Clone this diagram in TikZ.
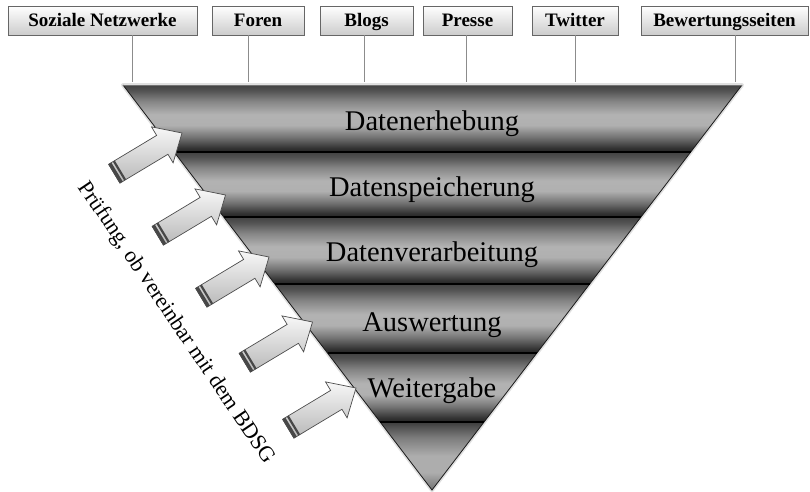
\documentclass[tikz,border=0pt]{standalone}
\usepackage{fontspec}
\setmainfont{Liberation Serif}
\pgfdeclareverticalshading{bandshade}{100bp}{color(0bp)=(black!86); color(25bp)=(black!86); color(28bp)=(black!80); color(36bp)=(black!55); color(45bp)=(black!31); color(53bp)=(black!30); color(63bp)=(black!48); color(71bp)=(black!68); color(75bp)=(black!74); color(100bp)=(black!74)}
\pgfdeclareverticalshading{tipshade}{100bp}{color(0bp)=(black!55); color(25bp)=(black!55); color(38bp)=(black!32); color(50bp)=(black!32); color(64bp)=(black!52); color(75bp)=(black!76); color(100bp)=(black!76)}
\tikzset{
  topbox/.style={draw=black!60, line width=0.7pt, top color=white, bottom color=black!20,
    minimum height=29pt, inner sep=0pt, text height=14pt, text depth=3pt,
    font=\bfseries\fontsize{19}{20}\selectfont},
  conn/.style={draw=black!45, line width=0.8pt},
  bandlabel/.style={anchor=base, font=\fontsize{28.5}{30}\selectfont, inner sep=0pt},
  sepline/.style={draw=black, line width=1.8pt},
  edgeline/.style={draw=black!90, line width=0.8pt},
  blockarrow/.pic={
    \path[draw=black!70, line width=0.7pt, top color=black!3, bottom color=black!28]
      (0,0) -- (-23,-21) -- (-23,-11) -- (-79,-11) -- (-79,11) -- (-23,11) -- (-23,21) -- cycle;
    \fill[black!72] (-79,-11) rectangle (-75.8,11);
    \fill[black!72] (-74,-11) rectangle (-71.8,11);
    \draw[black!70, line width=0.7pt] (-79,-11) -- (-79,11);
  }
}
\begin{document}
\begin{tikzpicture}[x=1pt,y=-1pt]
\useasboundingbox[fill=white] (0,0) rectangle (810,491);

% funnel coordinates
\coordinate (L0) at (123,85);   \coordinate (R0) at (742,85);
\coordinate (L1) at (174.1,152); \coordinate (R1) at (690.7,152);
\coordinate (L2) at (223.7,217); \coordinate (R2) at (641.0,217);
\coordinate (L3) at (274.8,284); \coordinate (R3) at (589.7,284);
\coordinate (L4) at (327.5,353); \coordinate (R4) at (536.9,353);
\coordinate (L5) at (380.1,422); \coordinate (R5) at (484.1,422);
\coordinate (T) at (432,490);

% soft halo
\draw[black!12, line width=4pt, line join=round] (L0) -- (R0) -- (T) -- cycle;

% bands
\shade[shading=bandshade] (L0) -- (R0) -- (R1) -- (L1) -- cycle;
\shade[shading=bandshade] (L1) -- (R1) -- (R2) -- (L2) -- cycle;
\shade[shading=bandshade] (L2) -- (R2) -- (R3) -- (L3) -- cycle;
\shade[shading=bandshade] (L3) -- (R3) -- (R4) -- (L4) -- cycle;
\shade[shading=bandshade] (L4) -- (R4) -- (R5) -- (L5) -- cycle;
\shade[shading=tipshade] (L5) -- (R5) -- (T) -- cycle;

\draw[edgeline] (L0) -- (T) -- (R0);
\draw[black!55, line width=0.8pt] (L0) -- (R0);
\foreach \i in {1,...,5} { \draw[sepline] (L\i) -- (R\i); }

% band labels
\node[bandlabel] (d1) at (432,130) {Datenerhebung};
\node[bandlabel] (d2) at (432,196) {Datenspeicherung};
\node[bandlabel] (d3) at (432,261) {Datenverarbeitung};
\node[bandlabel] (d4) at (432,331) {Auswertung};
\node[bandlabel] (d5) at (432,397) {Weitergabe};

% top boxes
\node[topbox, minimum width=189pt] (b1) at (102.5,20.5) {Soziale Netzwerke};
\node[topbox, minimum width=92pt]  (b2) at (258,20.5) {Foren};
\node[topbox, minimum width=93pt]  (b3) at (366.5,20.5) {Blogs};
\node[topbox, minimum width=89pt]  (b4) at (467.5,20.5) {Presse};
\node[topbox, minimum width=86pt]  (b5) at (575,20.5) {Twitter};
\node[topbox, minimum width=167pt] (b6) at (724.5,20.5) {Bewertungsseiten};

\coordinate (c1) at (132,82);
\coordinate (c2) at (248,82);
\coordinate (c3) at (364,82);
\coordinate (c4) at (466,82);
\coordinate (c5) at (575,82);
\coordinate (c6) at (735,82);
\foreach \i in {1,...,6} { \draw[conn] (c\i |- b\i.south) -- (c\i); }

% arrows
\pic[rotate=31] at (182,133) {blockarrow};
\pic[rotate=31] at (225.5,195) {blockarrow};
\pic[rotate=31] at (269,257) {blockarrow};
\pic[rotate=31] at (312.5,322) {blockarrow};
\pic[rotate=31] at (356,388) {blockarrow};

% rotated text
\node[rotate=-56, font=\fontsize{22}{24}\selectfont, inner sep=0pt] (pr) at (176,323)
  {Prüfung, ob vereinbar mit dem BDSG};
\end{tikzpicture}
\end{document}
